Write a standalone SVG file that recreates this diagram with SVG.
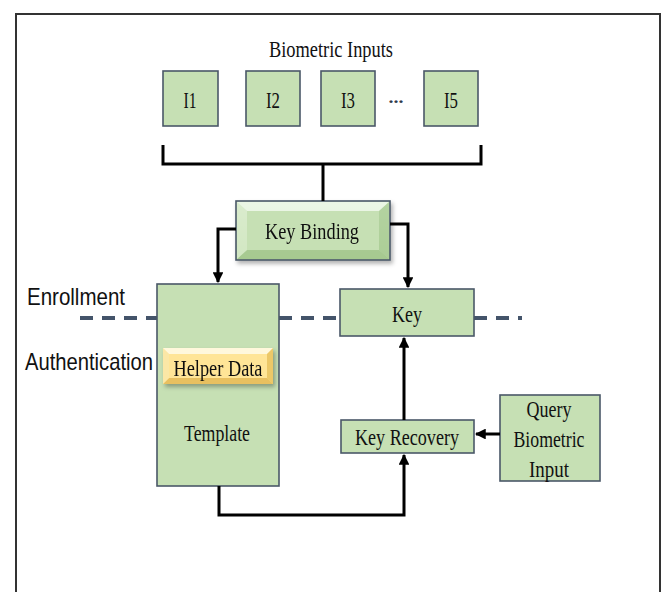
<svg xmlns="http://www.w3.org/2000/svg" width="664" height="592" viewBox="0 0 664 592">
  <defs>
    <style>
      .box { fill: #c6e0b4; stroke: #4a5868; stroke-width: 1.6; }
      .lbl { font-family: "Liberation Serif", "Times New Roman", serif; font-size: 24px; fill: #111; text-anchor: middle; }
      .side { font-family: "Liberation Sans", Arial, sans-serif; font-size: 24px; fill: #111; }
      .wire { fill: none; stroke: #000; stroke-width: 3; }
      .dash { fill: none; stroke: #44546a; stroke-width: 4; stroke-dasharray: 13 9; }
    </style>
    <marker id="arr" viewBox="0 0 10 10" refX="9" refY="5" markerWidth="3.6" markerHeight="3.6" orient="auto" markerUnits="strokeWidth">
      <path d="M0,0 L10,5 L0,10 z" fill="#000"/>
    </marker>
    <linearGradient id="gBind" x1="0" y1="0" x2="0" y2="1">
      <stop offset="0" stop-color="#e2f0d9"/>
      <stop offset="1" stop-color="#b4d49e"/>
    </linearGradient>
    <linearGradient id="gHelp" x1="0" y1="0" x2="0" y2="1">
      <stop offset="0" stop-color="#fff2c6"/>
      <stop offset="1" stop-color="#f3d27a"/>
    </linearGradient>
    <filter id="shadow" x="-10%" y="-20%" width="130%" height="150%">
      <feDropShadow dx="2" dy="3" stdDeviation="2" flood-color="#000" flood-opacity="0.3"/>
    </filter>
  </defs>

  <!-- outer frame -->
  <path d="M16,592 V14 H660 V592" fill="none" stroke="#333" stroke-width="2"/>

  <!-- phase divider -->
  <g id="divider">
    <path class="dash" d="M80,318 H157"/>
    <path class="dash" d="M279,318 H339"/>
    <path class="dash" d="M474,318 H522"/>
  </g>

  <!-- phase labels -->
  <text class="side" x="27" y="305" textLength="98" lengthAdjust="spacingAndGlyphs">Enrollment</text>
  <text class="side" x="25" y="370" textLength="128" lengthAdjust="spacingAndGlyphs">Authentication</text>

  <!-- biometric inputs -->
  <text class="lbl" x="331" y="57" font-size="21" textLength="124" lengthAdjust="spacingAndGlyphs">Biometric Inputs</text>
  <g id="i1"><rect class="box" x="163" y="71" width="55" height="55"/><text class="lbl" x="190" y="108" textLength="13" lengthAdjust="spacingAndGlyphs">I1</text></g>
  <g id="i2"><rect class="box" x="246" y="71" width="54" height="55"/><text class="lbl" x="273" y="108" textLength="14" lengthAdjust="spacingAndGlyphs">I2</text></g>
  <g id="i3"><rect class="box" x="321" y="71" width="54" height="55"/><text class="lbl" x="348" y="108" textLength="14" lengthAdjust="spacingAndGlyphs">I3</text></g>
  <text x="396" y="103" font-family="Liberation Serif, serif" font-size="16" font-weight="bold" fill="#2f3b4a" text-anchor="middle" textLength="15" lengthAdjust="spacingAndGlyphs">...</text>
  <g id="i5"><rect class="box" x="424" y="71" width="54" height="55"/><text class="lbl" x="451" y="108" textLength="14" lengthAdjust="spacingAndGlyphs">I5</text></g>

  <!-- key binding (bevelled) -->
  <g id="key-binding" filter="url(#shadow)">
    <rect x="236" y="201" width="154" height="59" fill="url(#gBind)" stroke="#4a5868" stroke-width="1.6"/>
    <path d="M237,202 L247,211 H379 L389,202 z" fill="#eef7e8" opacity="0.8"/>
    <path d="M237,259 L247,250 H379 L389,259 z" fill="#9fc489" opacity="0.7"/>
    <path d="M237,202 L247,211 V250 L237,259 z" fill="#d8ebcb" opacity="0.8"/>
    <path d="M389,202 L379,211 V250 L389,259 z" fill="#a9cc93" opacity="0.8"/>
    <rect x="247" y="211" width="132" height="39" fill="#c6e0b4"/>
    <text class="lbl" x="312" y="239" textLength="94" lengthAdjust="spacingAndGlyphs">Key Binding</text>
  </g>

  <!-- template -->
  <g id="template">
    <rect class="box" x="157" y="284" width="122" height="202"/>
    <text class="lbl" x="217" y="441" textLength="66" lengthAdjust="spacingAndGlyphs">Template</text>
  </g>

  <!-- helper data (bevelled) -->
  <g id="helper-data" filter="url(#shadow)">
    <rect x="163" y="348" width="110" height="36" fill="url(#gHelp)"/>
    <path d="M163,348 L169,354 H267 L273,348 z" fill="#fff8dc"/>
    <path d="M163,384 L169,378 H267 L273,384 z" fill="#e8c060"/>
    <path d="M163,348 L169,354 V378 L163,384 z" fill="#fbe7a6"/>
    <path d="M273,348 L267,354 V378 L273,384 z" fill="#ecc868"/>
    <rect x="169" y="354" width="98" height="24" fill="#ffe597"/>
    <text class="lbl" x="218" y="376" textLength="89" lengthAdjust="spacingAndGlyphs">Helper Data</text>
  </g>

  <!-- key -->
  <g id="key">
    <rect class="box" x="340" y="289" width="134" height="47"/>
    <text class="lbl" x="407" y="322" textLength="30" lengthAdjust="spacingAndGlyphs">Key</text>
  </g>

  <!-- key recovery -->
  <g id="key-recovery">
    <rect class="box" x="341" y="420" width="133" height="33"/>
    <text class="lbl" x="407" y="445" textLength="104" lengthAdjust="spacingAndGlyphs">Key Recovery</text>
  </g>

  <!-- query biometric input -->
  <g id="query">
    <rect class="box" x="500" y="395" width="100" height="86"/>
    <text class="lbl" x="549" y="417" font-size="23" textLength="45" lengthAdjust="spacingAndGlyphs">Query</text>
    <text class="lbl" x="549" y="447" font-size="23" textLength="71" lengthAdjust="spacingAndGlyphs">Biometric</text>
    <text class="lbl" x="549" y="477" font-size="23" textLength="40" lengthAdjust="spacingAndGlyphs">Input</text>
  </g>

  <!-- connectors -->
  <g id="connectors">
    <path class="wire" d="M163,145 V164 H481 V145"/>
    <path class="wire" d="M323,164 V201"/>
    <path class="wire" d="M236,229 H218 V282" marker-end="url(#arr)"/>
    <path class="wire" d="M390,224 H408 V287" marker-end="url(#arr)"/>
    <path class="wire" d="M404,420 V338" stroke-width="2.5" marker-end="url(#arr)"/>
    <path class="wire" d="M219,486 V515 H404 V455" marker-end="url(#arr)"/>
    <path class="wire" d="M500,434 H476" stroke-width="4" marker-end="url(#arr)"/>
  </g>
</svg>
